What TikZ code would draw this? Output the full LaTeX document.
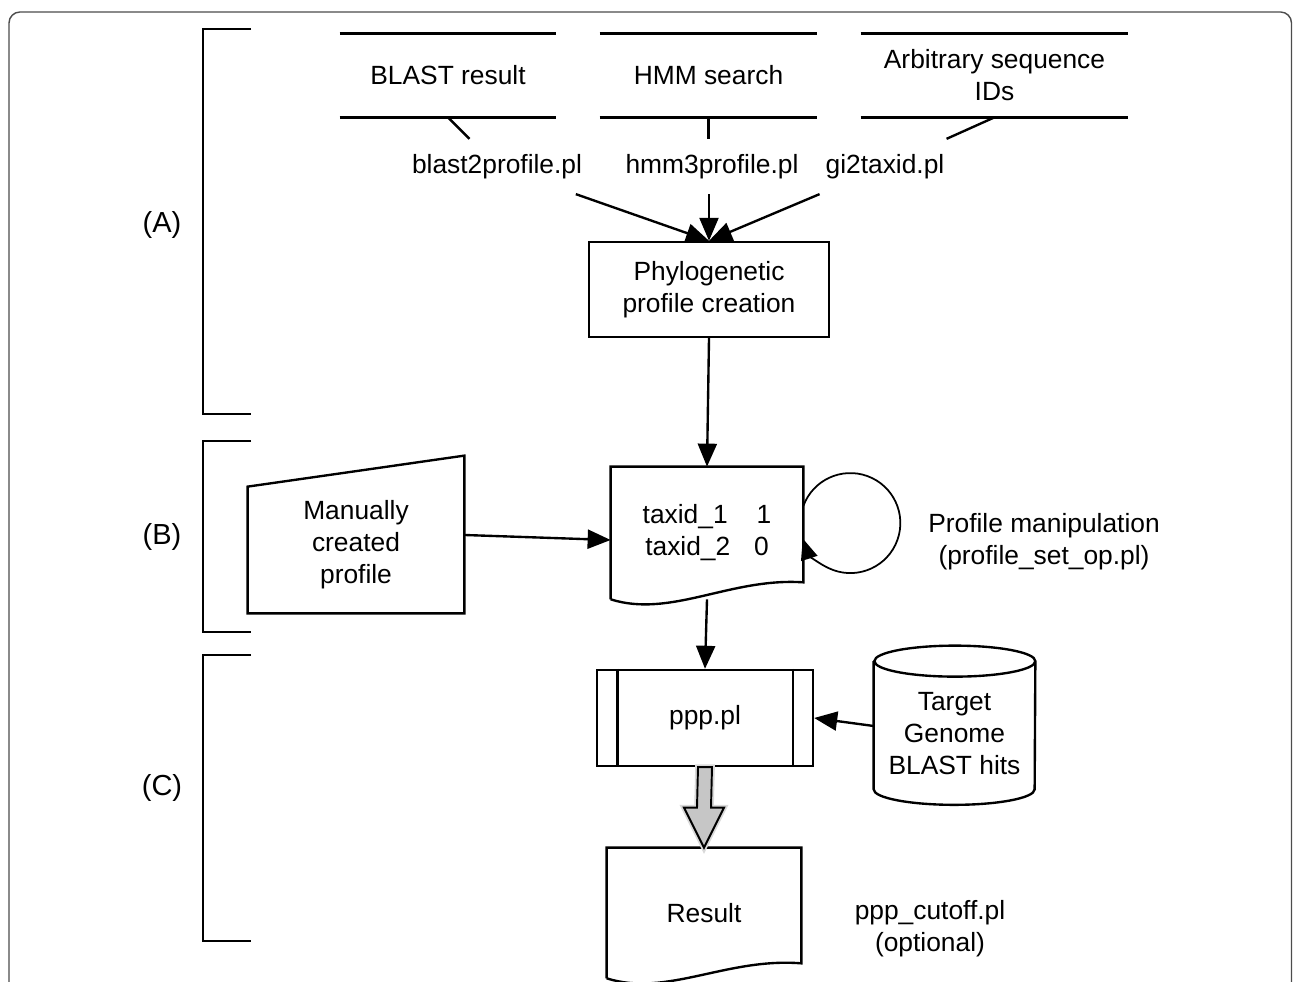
\documentclass[tikz,border=0pt]{standalone}
\usepackage{fontspec}
\setmainfont{Liberation Sans}
\usetikzlibrary{arrows.meta}

\begin{document}
\begin{tikzpicture}[every node/.style={font=\fontsize{15}{18.2}\selectfont, align=center, inner sep=0pt},
    line/.style={line width=1.35pt},
    link/.style={line width=1.35pt, -{Triangle[length=0.46cm, width=0.38cm]}},
    store/.style={minimum height=1.66cm},
    script/.style={inner sep=0.3cm},
    part/.style={font=\fontsize{16.5}{20}\selectfont},
    fatarrow/.style={line width=1.1pt, fill=gray!45, preaction={draw=gray!30, line width=3.2pt}}]
    \useasboundingbox (0,0) rectangle (25.86,19.64);

    % Marco
    \draw[line width=0.8pt, black!70, rounded corners=0.22cm] (0.18,-1) rectangle (25.83,19.4);

    % Partes
    \draw[line] (5.02,19.06) -- (4.06,19.06) -- (4.06,11.36) -- (5.02,11.36);
    \draw[line] (5.02,10.82) -- (4.06,10.82) -- (4.06,7.0) -- (5.02,7.0);
    \draw[line] (5.02,6.54) -- (4.06,6.54) -- (4.06,0.82) -- (5.02,0.82);
    \node[part] (pa) at (3.24,15.14) {(A)};
    \node[part] (pb) at (3.24,8.9) {(B)};
    \node[part] (pc) at (3.24,3.88) {(C)};

    % Entradas
    \node[store, minimum width=4.32cm] (blast) at (8.96,18.13) {BLAST result};
    \node[store, minimum width=4.34cm] (hmm) at (14.17,18.13) {HMM search};
    \node[store, minimum width=5.34cm] (ids) at (19.89,18.13) {Arbitrary sequence\\IDs};
    \draw[line] (blast.north west) -- (blast.north east) (blast.south west) -- (blast.south east);
    \draw[line] (hmm.north west) -- (hmm.north east) (hmm.south west) -- (hmm.south east);
    \draw[line] (ids.north west) -- (ids.north east) (ids.south west) -- (ids.south east);

    \node[script] (b2p) at (9.94,16.31) {blast2profile.pl};
    \node[script] (h2p) at (14.24,16.31) {hmm3profile.pl};
    \node[script] (g2t) at (17.7,16.31) {gi2taxid.pl};

    \node[draw, line, minimum width=4.8cm, minimum height=1.9cm] (phylo) at (14.18,13.85) {Phylogenetic\\profile creation};

    % Perfil
    \node[minimum width=3.84cm, minimum height=2.64cm] (taxid) at (14.14,8.98) {taxid\_1\hspace{1.1em}1\\taxid\_2\hspace{0.9em}0};
    \draw[line] (taxid.south west) -- (taxid.north west) -- (taxid.north east) -- ([yshift=0.34cm]taxid.south east)
        .. controls ([shift={(2.4,0.44)}]taxid.south west) and ([shift={(1.2,-0.38)}]taxid.south west) .. (taxid.south west);
    \node[minimum width=4.32cm, minimum height=2.72cm] (manual) at (7.12,8.74) {Manually\\created\\profile};
    \draw[line] ([yshift=0.42cm]manual.north east) -- (manual.south east) -- (manual.south west) -- ([yshift=-0.2cm]manual.north west) -- cycle;
    \node (manip) at (20.88,8.8) {Profile manipulation\\(profile\_set\_op.pl)};

    % Prediccion
    \node[draw, line, minimum width=4.32cm, minimum height=1.92cm] (ppp) at (14.1,5.28) {ppp.pl};
    \draw[line] ([xshift=0.43cm]ppp.north west) -- ([xshift=0.43cm]ppp.south west)
        ([xshift=-0.43cm]ppp.north east) -- ([xshift=-0.43cm]ppp.south east);
    \node[minimum width=3.22cm, minimum height=2.2cm] (tgt) at (19.09,4.96) {Target\\Genome\\BLAST hits};
    \draw[line] ([yshift=0.35cm]tgt.north west) -- (tgt.south west) arc[start angle=180, end angle=360, x radius=1.61cm, y radius=0.31cm]
        -- ([yshift=0.35cm]tgt.north east) arc[start angle=0, end angle=360, x radius=1.61cm, y radius=0.31cm];
    \node[minimum width=3.88cm, minimum height=2.6cm] (result) at (14.08,1.38) {Result};
    \draw[line] (result.south west) -- (result.north west) -- (result.north east) -- ([yshift=0.3cm]result.south east)
        .. controls ([shift={(2.4,0.42)}]result.south west) and ([shift={(1.2,-0.38)}]result.south west) .. (result.south west);
    \node (cutoff) at (18.6,1.06) {ppp\_cutoff.pl\\(optional)};

    % Conectores
    \draw[line] (blast.south) -- (b2p);
    \draw[link] (b2p) -- (phylo.north);
    \draw[line] (hmm.south) -- (hmm.south |- h2p.north);
    \draw[link] (h2p.south -| phylo.north) -- (phylo.north);
    \draw[line] (ids.south) -- (g2t);
    \draw[link] (g2t) -- (phylo.north);
    \draw[link] (phylo.south) -- (taxid.north);
    \draw[link] ([yshift=0.2cm]manual.east) -- ([yshift=-0.14cm]taxid.west);
    \draw[line width=1pt, -{Triangle[length=0.42cm, width=0.34cm]}] ([yshift=0.54cm]taxid.east) arc[start angle=160, end angle=-162, radius=1cm];
    \draw[link] (taxid.south) -- (ppp.north);
    \draw[link] ([yshift=0.16cm]tgt.west) -- (ppp.east);
    \draw[fatarrow] ([xshift=-0.14cm]ppp.south) -- ([xshift=-0.14cm, yshift=0.8cm]result.north)
        -- ([xshift=-0.4cm, yshift=0.8cm]result.north) -- (result.north) -- ([xshift=0.4cm, yshift=0.8cm]result.north)
        -- ([xshift=0.14cm, yshift=0.8cm]result.north) -- ([xshift=0.14cm]ppp.south) -- cycle;
\end{tikzpicture}
\end{document}
